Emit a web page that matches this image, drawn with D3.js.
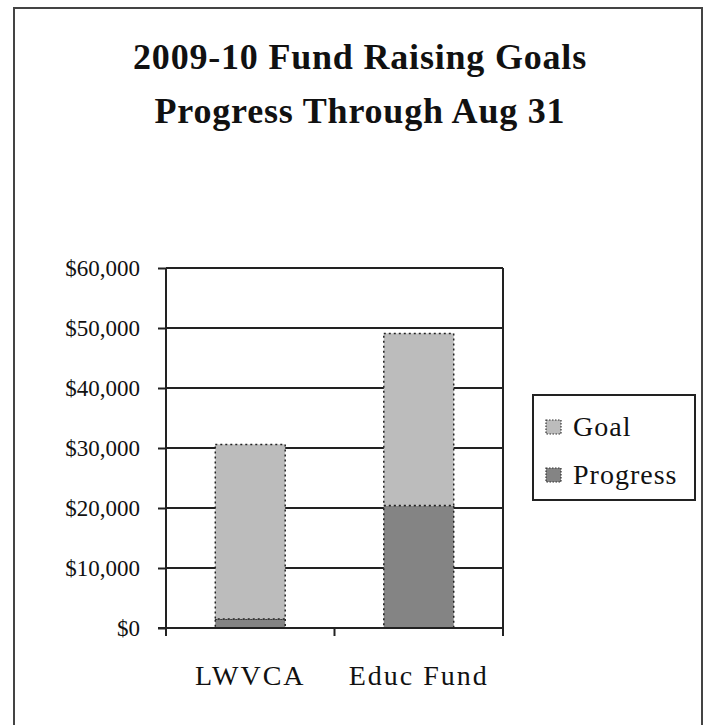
<!DOCTYPE html>
<html>
<head>
<meta charset="utf-8">
<script src="https://cdn.jsdelivr.net/npm/d3@7"></script>
<style>
  body { margin: 0; background: #fff; }
  svg { display: block; }
</style>
</head>
<body>
<div id="chart"></div>
<script>
// categories and series (stacked: progress at bottom, remaining goal on top)
var categories = ["LWVCA", "Educ Fund"]
var progress = [1500, 20400]
var goal = [29100, 28700]
var seriesNames = ["Goal", "Progress"]
var tickValues = [0, 10000, 20000, 30000, 40000, 50000, 60000]

var colours = {"Goal": "#bcbcbc", "Progress": "#848484"}
var serif = "'Liberation Serif', 'Times New Roman', serif"

var width = 705, height = 725
var svg = d3.select("#chart").append("svg")
    .attr("width", width)
    .attr("height", height)

// outer chart border
svg.append("rect")
    .attr("x", 14).attr("y", 8)
    .attr("width", 688).attr("height", 740)
    .attr("fill", "white")
    .attr("stroke", "#444")
    .attr("stroke-width", 2)

// title
var title = svg.append("text")
    .attr("text-anchor", "middle")
    .style("font-family", serif)
    .style("font-weight", "bold")
    .style("font-size", "36px")
    .style("letter-spacing", "0.8px")
    .attr("fill", "#111")
title.append("tspan").attr("x", 360).attr("y", 69).text("2009-10 Fund Raising Goals")
title.append("tspan").attr("x", 360).attr("y", 123).text("Progress Through Aug 31")

// plot area
var plotLeft = 166, plotRight = 503, plotTop = 268, plotBottom = 628

var x = d3.scaleBand()
    .domain(categories)
    .range([plotLeft, plotRight])
    .paddingInner(0.585)
    .paddingOuter(0.2925)

var y = d3.scaleLinear()
    .domain([0, 60000])
    .range([plotBottom, plotTop])

// gridlines
svg.append("g")
    .selectAll("line")
    .data(tickValues.filter(function(d) { return d > 0 }))
    .enter().append("line")
    .attr("x1", plotLeft).attr("x2", plotRight)
    .attr("y1", function(d) { return y(d) }).attr("y2", function(d) { return y(d) })
    .attr("stroke", "#222")
    .attr("stroke-width", 2)

// right side of plot area
svg.append("line")
    .attr("x1", plotRight).attr("x2", plotRight)
    .attr("y1", plotTop).attr("y2", plotBottom + 8)
    .attr("stroke", "#222").attr("stroke-width", 2)

// stacked data
var stackData = categories.map(function(c, i) {
    return {cat: c, Progress: progress[i], Goal: goal[i]}
})
var stack = d3.stack().keys(["Progress", "Goal"])
var layers = stack(stackData)

layers.forEach(function(layer) {
    svg.append("g")
        .selectAll("rect")
        .data(layer)
        .enter().append("rect")
        .attr("x", function(d) { return x(d.data.cat) })
        .attr("width", x.bandwidth())
        .attr("y", function(d) { return y(d[1]) })
        .attr("height", function(d) { return y(d[0]) - y(d[1]) })
        .attr("fill", colours[layer.key])
        .attr("stroke", "#222")
        .attr("stroke-width", 1.5)
        .attr("stroke-dasharray", "2,3")
})

// y axis
var yAxis = d3.axisLeft(y)
    .tickValues(tickValues)
    .tickSize(8)
    .tickPadding(18)
    .tickFormat(function(d) { return "$" + d3.format(",")(d) })

var yg = svg.append("g")
    .attr("transform", "translate(" + plotLeft + ",0)")
    .call(yAxis)
yg.select(".domain").attr("stroke", "#222").attr("stroke-width", 2)
    .attr("d", "M0," + plotTop + "V" + plotBottom)
yg.selectAll(".tick line").attr("stroke", "#222").attr("stroke-width", 2)
yg.selectAll("text")
    .style("font-family", serif)
    .style("font-size", "23px")
    .attr("fill", "#111")

// x axis
var xAxis = d3.axisBottom(x).tickSize(0).tickPadding(36)
var xg = svg.append("g")
    .attr("transform", "translate(0," + plotBottom + ")")
    .call(xAxis)
xg.select(".domain").attr("stroke", "#222").attr("stroke-width", 2)
    .attr("d", "M" + (plotLeft - 8) + ",0H" + plotRight)
xg.selectAll("text")
    .attr("dy", null)
    .attr("y", 57)
    .style("font-family", serif)
    .style("font-size", "28px")
    .style("letter-spacing", "2px")
    .attr("fill", "#111")

// x tick marks between categories
var sep = [plotLeft, plotLeft + x.step(), plotRight]
svg.append("g")
    .selectAll("line")
    .data(sep)
    .enter().append("line")
    .attr("x1", function(d) { return d }).attr("x2", function(d) { return d })
    .attr("y1", plotBottom).attr("y2", plotBottom + 8)
    .attr("stroke", "#222").attr("stroke-width", 2)

// legend
var legend = svg.append("g").attr("transform", "translate(533,395)")
legend.append("rect")
    .attr("width", 162).attr("height", 105)
    .attr("fill", "white")
    .attr("stroke", "#222").attr("stroke-width", 2)

var items = legend.selectAll(".item")
    .data(seriesNames)
    .enter().append("g")
    .attr("transform", function(d, i) { return "translate(13," + (32 + i * 48) + ")" })
items.append("rect")
    .attr("x", 0).attr("y", -7)
    .attr("width", 15).attr("height", 14)
    .attr("fill", function(d) { return colours[d] })
    .attr("stroke", "#333").attr("stroke-width", 1.2)
    .attr("stroke-dasharray", "1.5,1.5")
items.append("text")
    .attr("x", 27).attr("y", 9)
    .style("font-family", serif)
    .style("font-size", "28px")
    .style("letter-spacing", "1px")
    .attr("fill", "#111")
    .text(function(d) { return d })
</script>
</body>
</html>
